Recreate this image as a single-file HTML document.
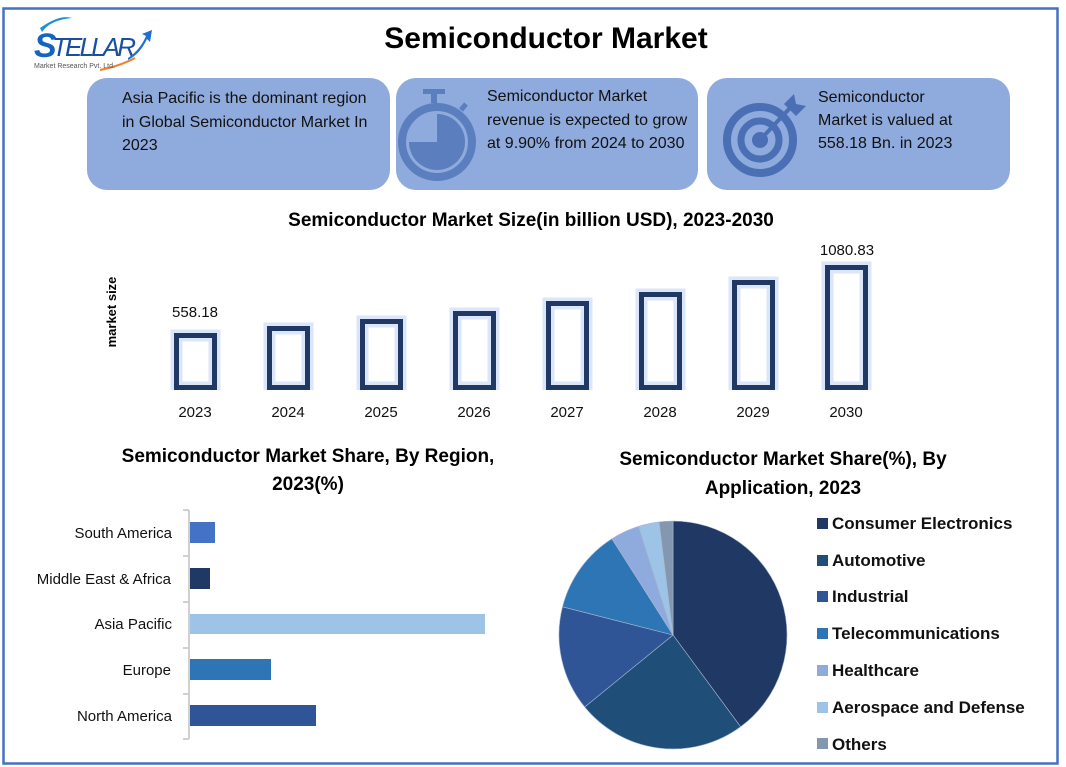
<!DOCTYPE html>
<html><head><meta charset="utf-8"><style>
html,body{margin:0;padding:0;background:#fff;}
svg{display:block;font-family:"Liberation Sans",sans-serif;}
</style></head><body>
<svg width="1066" height="767" viewBox="0 0 1066 767" xmlns="http://www.w3.org/2000/svg">
<rect x="3.5" y="8.5" width="1054" height="755" fill="#fff" stroke="#4472c4" stroke-width="2.5"/>
<!-- logo -->
<path d="M40 28 Q60 14 72 18 Q50 20 42 32 Z" fill="#1e90d6"/>
<text x="34" y="57" font-size="34" font-style="italic" fill="#1565c0" font-weight="bold" textLength="80">S</text>
<text x="52" y="56" font-size="26" fill="#1a4fa0" font-style="italic" textLength="84">TELLAR</text>
<path d="M128 58 Q140 50 146 36 L142 34 L152 30 L150 42 L147 39 Q140 54 128 60 Z" fill="#1e6fd0"/>
<path d="M100 70 Q120 66 135 58" stroke="#f08030" stroke-width="2" fill="none"/>
<text x="34" y="68" font-size="7" fill="#555">Market Research Pvt. Ltd.</text>
<text x="546" y="48" font-size="30" font-weight="bold" text-anchor="middle" fill="#000">Semiconductor Market</text>
<!-- cards -->
<rect x="87" y="78" width="303" height="112" rx="20" fill="#8faadc"/>
<rect x="396" y="78" width="302" height="112" rx="20" fill="#8faadc"/>
<rect x="707" y="78" width="303" height="112" rx="20" fill="#8faadc"/>
<g font-size="16" fill="#111">
<text x="122" y="103">Asia Pacific is the dominant region</text>
<text x="122" y="127">in Global Semiconductor Market In</text>
<text x="122" y="150">2023</text>
<text x="487" y="101">Semiconductor Market</text>
<text x="487" y="125">revenue is expected to grow</text>
<text x="487" y="148">at 9.90% from 2024 to 2030</text>
<text x="818" y="102">Semiconductor</text>
<text x="818" y="125">Market is valued at</text>
<text x="818" y="148">558.18 Bn. in 2023</text>
</g>
<!-- stopwatch -->
<g fill="#5b7ebf" stroke="#5b7ebf">
<rect x="423" y="89" width="22" height="5" stroke="none"/>
<rect x="431" y="93" width="6" height="10" stroke="none"/>
<circle cx="437" cy="142" r="35" fill="none" stroke-width="8"/>
<path d="M437 142 L437 114 A28 28 0 1 1 409 142 Z" stroke="none"/>
<line x1="461" y1="110" x2="466" y2="104" stroke-width="5"/>
</g>
<!-- target -->
<g fill="none" stroke="#4a6fb5">
<circle cx="760" cy="140" r="33" stroke-width="8"/>
<circle cx="760" cy="140" r="19" stroke-width="7"/>
<circle cx="760" cy="140" r="8" fill="#4a6fb5" stroke="none"/>
<line x1="760" y1="140" x2="790" y2="108" stroke-width="4"/>
<path d="M784 104 L794 94 L796 104 L806 106 L796 116 Z" fill="#4a6fb5" stroke="none"/>
</g>
<!-- bar chart -->
<text x="531" y="226" font-size="19" font-weight="bold" text-anchor="middle">Semiconductor Market Size(in billion USD), 2023-2030</text>
<text transform="translate(116,312) rotate(-90)" font-size="13" font-weight="bold" text-anchor="middle">market size</text>
<g fill="none">
<g stroke="#dbe6fb" stroke-width="12">
<rect x="176.5" y="335.5" width="38" height="52"/><rect x="269.5" y="328.5" width="38" height="59"/><rect x="362.5" y="321.5" width="38" height="66"/><rect x="455.5" y="313.5" width="38" height="74"/><rect x="548.5" y="303.5" width="38" height="84"/><rect x="641.5" y="294.5" width="38" height="93"/><rect x="734.5" y="282.5" width="38" height="105"/><rect x="827.5" y="267.5" width="38" height="120"/>
</g>
<g stroke="#203864" stroke-width="5">
<rect x="176.5" y="335.5" width="38" height="52"/><rect x="269.5" y="328.5" width="38" height="59"/><rect x="362.5" y="321.5" width="38" height="66"/><rect x="455.5" y="313.5" width="38" height="74"/><rect x="548.5" y="303.5" width="38" height="84"/><rect x="641.5" y="294.5" width="38" height="93"/><rect x="734.5" y="282.5" width="38" height="105"/><rect x="827.5" y="267.5" width="38" height="120"/>
</g>
</g>
<rect x="150" y="390" width="740" height="10" fill="#fff"/>
<g font-size="15" text-anchor="middle" fill="#111">
<text x="195" y="317">558.18</text><text x="847" y="255">1080.83</text>
<text x="195" y="417">2023</text><text x="288" y="417">2024</text><text x="381" y="417">2025</text><text x="474" y="417">2026</text><text x="567" y="417">2027</text><text x="660" y="417">2028</text><text x="753" y="417">2029</text><text x="846" y="417">2030</text>
</g>
<!-- region chart -->
<g font-size="19" font-weight="bold" text-anchor="middle">
<text x="308" y="462">Semiconductor Market Share, By Region,</text>
<text x="308" y="490">2023(%)</text>
<text x="783" y="465">Semiconductor Market Share(%), By</text>
<text x="783" y="494">Application, 2023</text>
</g>
<g stroke="#d0d0d0" stroke-width="2">
<line x1="189" y1="510" x2="189" y2="739"/>
<line x1="183" y1="510" x2="189" y2="510"/><line x1="183" y1="556" x2="189" y2="556"/><line x1="183" y1="602" x2="189" y2="602"/><line x1="183" y1="648" x2="189" y2="648"/><line x1="183" y1="694" x2="189" y2="694"/><line x1="183" y1="739" x2="189" y2="739"/>
</g>
<rect x="190" y="522" width="25" height="21" fill="#4472c4"/>
<rect x="190" y="568" width="20" height="21" fill="#203864"/>
<rect x="190" y="614" width="295" height="20" fill="#9dc3e6"/>
<rect x="190" y="659" width="81" height="21" fill="#2e75b6"/>
<rect x="190" y="705" width="126" height="21" fill="#2f5597"/>
<g font-size="15" text-anchor="end" fill="#111">
<text x="172" y="538">South America</text>
<text x="171" y="584">Middle East &amp; Africa</text>
<text x="172" y="629">Asia Pacific</text>
<text x="171" y="675">Europe</text>
<text x="172" y="721">North America</text>
</g>
<!-- pie -->
<g stroke="#a8b8d0" stroke-width="0.6">
<path d="M673 635 L673 521 A114 114 0 0 1 740.6 726.8 Z" fill="#203864"/>
<path d="M673 635 L740.6 726.8 A114 114 0 0 1 584.7 707 Z" fill="#1f4e79"/>
<path d="M673 635 L584.7 707 A114 114 0 0 1 562.5 606.8 Z" fill="#2f5597"/>
<path d="M673 635 L562.5 606.8 A114 114 0 0 1 611.9 538.7 Z" fill="#2e75b6"/>
<path d="M673 635 L611.9 538.7 A114 114 0 0 1 638.7 526.3 Z" fill="#8faadc"/>
<path d="M673 635 L638.7 526.3 A114 114 0 0 1 659.1 521.9 Z" fill="#9dc3e6"/>
<path d="M673 635 L659.1 521.9 A114 114 0 0 1 673 521 Z" fill="#8497b0"/>
</g>
<!-- legend -->
<rect x="817" y="518" width="11" height="11" fill="#203864"/>
<rect x="817" y="555" width="11" height="11" fill="#1f4e79"/>
<rect x="817" y="591" width="11" height="11" fill="#2f5597"/>
<rect x="817" y="628" width="11" height="11" fill="#2e75b6"/>
<rect x="817" y="665" width="11" height="11" fill="#8faadc"/>
<rect x="817" y="702" width="11" height="11" fill="#9dc3e6"/>
<rect x="817" y="738" width="11" height="11" fill="#8497b0"/>
<g font-size="17" font-weight="bold" fill="#111">
<text x="832" y="529">Consumer Electronics</text>
<text x="832" y="566">Automotive</text>
<text x="832" y="602">Industrial</text>
<text x="832" y="639">Telecommunications</text>
<text x="832" y="676">Healthcare</text>
<text x="832" y="713">Aerospace and Defense</text>
<text x="832" y="750">Others</text>
</g>
</svg>
</body></html>
